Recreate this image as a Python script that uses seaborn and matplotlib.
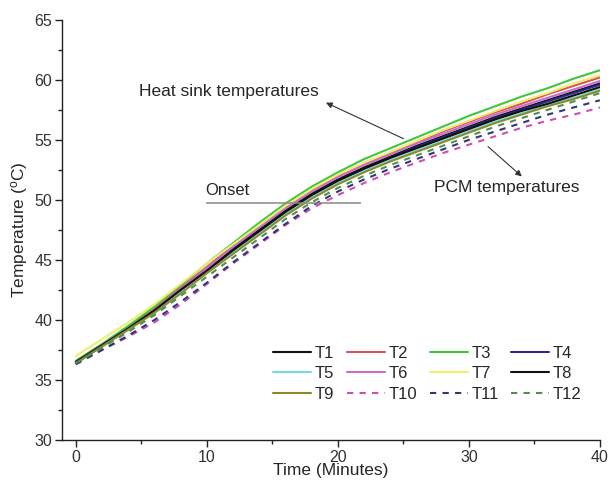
import matplotlib
matplotlib.use("Agg")
import matplotlib.pyplot as plt
import seaborn as sns
import pandas as pd
from matplotlib.ticker import MultipleLocator

# ---- data ----
time_min = [0, 2, 4, 6, 8, 10, 12, 14, 16, 18, 20, 22, 24, 26, 28, 30, 32, 34, 36, 38, 40]
T1 = [36.5, 37.9, 39.3, 40.8, 42.5, 44.2, 45.9, 47.5, 49.1, 50.5, 51.7, 52.7, 53.6, 54.5, 55.3, 56.1, 56.9, 57.6, 58.3, 59.0, 59.7]
T2 = [36.5, 37.9, 39.4, 40.9, 42.7, 44.4, 46.2, 47.8, 49.4, 50.8, 52.0, 53.0, 53.9, 54.8, 55.7, 56.5, 57.3, 58.0, 58.8, 59.5, 60.2]
T3 = [36.6, 38.0, 39.5, 41.1, 42.9, 44.7, 46.4, 48.1, 49.7, 51.1, 52.3, 53.4, 54.3, 55.2, 56.1, 57.0, 57.8, 58.6, 59.3, 60.1, 60.8]
T4 = [36.4, 37.8, 39.2, 40.7, 42.4, 44.1, 45.8, 47.4, 49.0, 50.4, 51.6, 52.6, 53.5, 54.4, 55.2, 56.0, 56.8, 57.5, 58.2, 58.9, 59.6]
T5 = [36.4, 37.8, 39.2, 40.6, 42.3, 43.9, 45.6, 47.2, 48.8, 50.2, 51.4, 52.4, 53.3, 54.1, 54.9, 55.7, 56.5, 57.2, 57.9, 58.5, 59.2]
T6 = [36.5, 37.9, 39.3, 40.8, 42.6, 44.3, 46.1, 47.7, 49.3, 50.7, 51.9, 52.9, 53.8, 54.7, 55.5, 56.3, 57.1, 57.8, 58.5, 59.2, 59.9]
T7 = [37.0, 38.4, 39.8, 41.3, 43.0, 44.7, 46.3, 47.9, 49.5, 50.9, 52.1, 53.1, 54.0, 54.9, 55.8, 56.6, 57.4, 58.2, 58.9, 59.7, 60.4]
T8 = [36.5, 37.9, 39.3, 40.8, 42.5, 44.1, 45.8, 47.4, 49.0, 50.4, 51.6, 52.6, 53.5, 54.3, 55.1, 55.9, 56.7, 57.4, 58.0, 58.7, 59.4]
T9 = [36.4, 37.8, 39.2, 40.6, 42.2, 43.9, 45.5, 47.1, 48.7, 50.1, 51.3, 52.3, 53.2, 54.0, 54.8, 55.6, 56.4, 57.1, 57.8, 58.4, 59.1]
T10 = [36.4, 37.5, 38.6, 39.8, 41.3, 43.0, 44.7, 46.3, 47.9, 49.3, 50.4, 51.4, 52.3, 53.1, 53.9, 54.6, 55.3, 56.0, 56.6, 57.1, 57.7]
T11 = [36.3, 37.5, 38.7, 40.0, 41.5, 43.1, 44.8, 46.4, 48.0, 49.5, 50.7, 51.7, 52.6, 53.4, 54.2, 55.0, 55.7, 56.4, 57.1, 57.7, 58.3]
T12 = [36.4, 37.7, 39.0, 40.4, 42.0, 43.6, 45.2, 46.8, 48.4, 49.8, 51.0, 52.0, 52.9, 53.7, 54.5, 55.3, 56.1, 56.8, 57.5, 58.2, 58.9]

series_names = ["T1", "T2", "T3", "T4", "T5", "T6", "T7", "T8", "T9", "T10", "T11", "T12"]
series_values = [T1, T2, T3, T4, T5, T6, T7, T8, T9, T10, T11, T12]
colors = ["#111111", "#d9534f", "#3fc63f", "#2a2a8f", "#6fdede", "#c96bc9",
          "#eeee70", "#111111", "#8a8a2a", "#cc4fb0", "#34347a", "#4f8f4f"]
styles = ["-"] * 9 + ["--"] * 3

onset_value = 49.7
onset_range = [9.9, 21.8]

# ---- plot ----
sns.set_theme(style="ticks")
plt.rcParams["font.family"] = ["Liberation Sans", "DejaVu Sans"]
plt.rcParams["mathtext.default"] = "regular"

fig = plt.figure(figsize=(6.09, 4.84), dpi=100)
ax = fig.add_axes([0.102, 0.091, 0.883, 0.868])

rows = []
for name, vals in zip(series_names, series_values):
    for t, v in zip(time_min, vals):
        rows.append({"Time": t, "Temp": v, "Series": name})
df = pd.DataFrame(rows)

handles = {}
for name, col, ls in zip(series_names, colors, styles):
    sub = df[df["Series"] == name]
    sns.lineplot(data=sub, x="Time", y="Temp", ax=ax, color=col, linewidth=1.5,
                 label=name, legend=False)
    line = ax.get_lines()[-1]
    line.set_linestyle(ls)
    if ls == "--":
        line.set_dashes((3, 3))
    handles[name] = line

ax.hlines(onset_value, onset_range[0], onset_range[1], color="#888888", linewidth=1.1)
ax.text(onset_range[0], onset_value + 0.45, "Onset", fontsize=12, ha="left", va="bottom")

ax.annotate("", xy=(18.9, 58.2), xytext=(25.2, 55.0),
            arrowprops=dict(arrowstyle="-|>", color="#333333", lw=0.8, mutation_scale=9))
ax.text(11.7, 59.0, "Heat sink temperatures", fontsize=12.5, ha="center", va="center")
ax.annotate("", xy=(34.2, 51.8), xytext=(31.3, 54.6),
            arrowprops=dict(arrowstyle="-|>", color="#333333", lw=0.8, mutation_scale=9))
ax.text(32.9, 51.0, "PCM temperatures", fontsize=12.5, ha="center", va="center")

ax.set_xlim(-1.05, 40)
ax.set_ylim(30, 65)
ax.xaxis.set_major_locator(MultipleLocator(10))
ax.xaxis.set_minor_locator(MultipleLocator(5))
ax.yaxis.set_major_locator(MultipleLocator(5))
ax.yaxis.set_minor_locator(MultipleLocator(2.5))
ax.tick_params(which="major", direction="out", length=5, width=1, labelsize=11.5, pad=2,
               colors="#222222", labelcolor="#333333")
ax.tick_params(which="minor", direction="out", length=3, width=1, colors="#222222")
for s in ["top", "right"]:
    ax.spines[s].set_visible(False)
for s in ["left", "bottom"]:
    ax.spines[s].set_linewidth(1.0)
    ax.spines[s].set_color("#222222")

ax.set_xlabel("Time (Minutes)", fontsize=12.5, labelpad=-1)
ax.set_ylabel("Temperature ($^{o}$C)", fontsize=12.5, labelpad=3)

order = ["T1", "T5", "T9", "T2", "T6", "T10", "T3", "T7", "T11", "T4", "T8", "T12"]
leg = ax.legend([handles[n] for n in order], order, ncol=4, frameon=False,
                loc="upper left", bbox_to_anchor=(0.38, 0.24), fontsize=12,
                handlelength=2.3, handletextpad=0.2, columnspacing=0.75,
                labelspacing=0.33, borderaxespad=0)

fig.savefig("out.png", dpi=100)
